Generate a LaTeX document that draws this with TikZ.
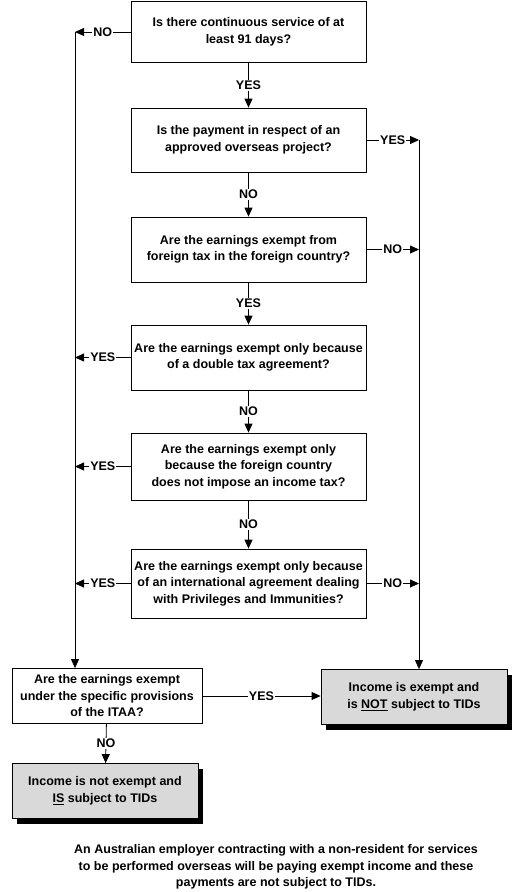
\documentclass[tikz,border=0pt]{standalone}
\usepackage{fontspec}
\setmainfont{Liberation Sans}
\usetikzlibrary{arrows.meta,shadows}
\begin{document}
\begin{tikzpicture}[x=1pt, y=-1pt,
  every node/.style={font=\bfseries\fontsize{12.5}{16.5}\selectfont, align=center},
  question/.style={draw, line width=0.8pt, minimum width=235pt, inner sep=2pt},
  outcome/.style={draw, line width=0.8pt, fill=black!15, minimum width=186pt, minimum height=55pt,
    drop shadow={shadow xshift=5pt, shadow yshift=-5pt, fill=black, opacity=1}},
  answer/.style={fill=white, inner sep=1pt},
  flow/.style={line width=0.8pt, -{Triangle[length=9pt,width=8pt]}}]
  \useasboundingbox (0,0) rectangle (526,892);
  \node[question, minimum height=61pt] (q1) at (248.5,32) {Is there continuous service of at\\least 91 days?};
  \node[question, minimum height=64pt] (q2) at (248.5,140) {Is the payment in respect of an\\approved overseas project?};
  \node[question, minimum height=65pt] (q3) at (248.5,249.5) {Are the earnings exempt from\\foreign tax in the foreign country?};
  \node[question, minimum height=65pt] (q4) at (248.5,357.5) {Are the earnings exempt only because\\of a double tax agreement?};
  \node[question, minimum height=67pt] (q5) at (248.5,466.5) {Are the earnings exempt only\\because the foreign country\\does not impose an income tax?};
  \node[question, minimum height=69pt] (q6) at (248.5,583.5) {Are the earnings exempt only because\\of an international agreement dealing\\with Privileges and Immunities?};
  \node[question, minimum width=190pt, minimum height=55pt] (q7) at (107,696) {Are the earnings exempt\\under the specific provisions\\of the ITAA?};
  \node[outcome] (exempt) at (414,697) {Income is exempt and\\is \underline{NOT} subject to TIDs};
  \node[outcome] (notexempt) at (105,791) {Income is not exempt and\\\underline{IS} subject to TIDs};
  \node (note) at (276,867) {An Australian employer contracting with a non-resident for services\\to be performed overseas will be paying exempt income and these\\payments are not subject to TIDs.};
  % side lines
  \coordinate (lt) at (75,32);
  \coordinate (rt) at (419,140);
  \draw[flow] (q1.west) -- node[answer] {NO} (lt);
  \draw[flow] (lt) -- (lt |- q7.north);
  \draw[flow] (q2.east) -- node[answer] {YES} (rt);
  \draw[flow] (rt) -- (rt |- exempt.north);
  % down the middle
  \draw[flow] (q1) -- node[answer] {YES} (q2);
  \draw[flow] (q2) -- node[answer] {NO} (q3);
  \draw[flow] (q3) -- node[answer] {YES} (q4);
  \draw[flow] (q4) -- node[answer] {NO} (q5);
  \draw[flow] (q5) -- node[answer] {NO} (q6);
  % to the sides
  \draw[flow] (q3.east) -- node[answer] {NO} (q3.east -| rt);
  \draw[flow] (q6.east) -- node[answer] {NO} (q6.east -| rt);
  \draw[flow] (q4.west) -- node[answer] {YES} (q4.west -| lt);
  \draw[flow] (q5.west) -- node[answer] {YES} (q5.west -| lt);
  \draw[flow] (q6.west) -- node[answer] {YES} (q6.west -| lt);
  % last question
  \draw[flow] (q7.east) -- node[answer] {YES} (q7.east -| exempt.west);
  \draw[flow] (q7) -- node[answer] {NO} (notexempt);
\end{tikzpicture}
\end{document}
